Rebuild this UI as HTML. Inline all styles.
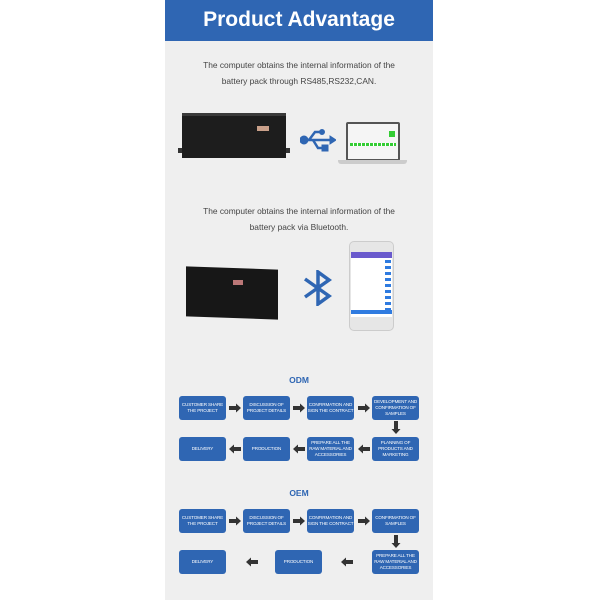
<!DOCTYPE html>
<html><head><meta charset="utf-8">
<style>
*{margin:0;padding:0;box-sizing:border-box}
body{width:600px;height:600px;background:#fff;position:relative;overflow:hidden;font-family:"Liberation Sans",sans-serif}
#col{position:absolute;left:165px;top:0;width:268px;height:600px;background:#efefef}
#hdr{position:absolute;left:165px;top:0;width:268px;height:41px;background:#2f66b3;color:#fff;font-weight:bold;font-size:21px;text-align:center;line-height:40px}
.t{position:absolute;left:165px;width:268px;text-align:center;font-size:8.4px;color:#444;line-height:16px}
.b{position:absolute;width:47px;height:24px;background:#2f66b3;border-radius:3px;color:#fff;font-size:4.6px;display:flex;align-items:center;justify-content:center;text-align:center;line-height:6px;text-transform:uppercase;letter-spacing:-0.15px;white-space:nowrap}
.h{position:absolute;left:165px;width:268px;text-align:center;color:#2f66b3;font-weight:bold;font-size:8.5px}
.a{position:absolute}
</style></head><body>
<div id="col"></div>
<div id="hdr">Product Advantage</div>
<div class="t" style="top:57px">The computer obtains the internal information of the<br>battery pack through RS485,RS232,CAN.</div>
<div style="position:absolute;left:178px;top:148px;width:112px;height:5px;background:#333"></div>
<div style="position:absolute;left:182px;top:113px;width:104px;height:45px;background:#1d1d1d;border-top:3px solid #3a3a3a"></div>
<div style="position:absolute;left:257px;top:126px;width:12px;height:5px;background:#c9a08a"></div>
<svg class="a" style="left:300px;top:128px" width="36" height="24" viewBox="0 0 36 24"><g fill="#2f66b3" stroke="#2f66b3"><circle cx="4" cy="12" r="4"/><line x1="4" y1="12" x2="30" y2="12" stroke-width="2.5"/><polygon points="30,8 36,12 30,16"/><polyline points="9,12 15,4 21,4" fill="none" stroke-width="2.5"/><circle cx="22" cy="4" r="2.5"/><polyline points="13,12 18,20 24,20" fill="none" stroke-width="2.5"/><rect x="22" y="17" width="6" height="6"/></g></svg>
<div style="position:absolute;left:346px;top:122px;width:54px;height:39px;background:#555;border-radius:2px"></div>
<div style="position:absolute;left:348px;top:124px;width:50px;height:35px;background:#f5f5f5"></div>
<div style="position:absolute;left:350px;top:143px;width:46px;height:3px;background:repeating-linear-gradient(90deg,#3c3 0 3px,#fff 3px 4px)"></div>
<div style="position:absolute;left:389px;top:131px;width:6px;height:6px;background:#3c3"></div>
<div style="position:absolute;left:338px;top:160px;width:69px;height:4px;background:#ccc;border-radius:0 0 3px 3px"></div>
<div class="t" style="top:203px">The computer obtains the internal information of the<br>battery pack via Bluetooth.</div>
<div style="position:absolute;left:186px;top:268px;width:92px;height:50px;background:#171717;transform:skewY(2deg)"></div>
<div style="position:absolute;left:233px;top:280px;width:10px;height:5px;background:#b77"></div>
<svg class="a" style="left:303px;top:270px" width="30" height="36" viewBox="0 0 30 36"><polyline points="2,9 26,26 15,34 15,2 26,10 2,27" fill="none" stroke="#2f66b3" stroke-width="3.5" stroke-linejoin="miter"/></svg>
<div style="position:absolute;left:349px;top:241px;width:45px;height:90px;background:#e6e6e6;border-radius:5px;border:1px solid #ccc"></div>
<div style="position:absolute;left:351px;top:252px;width:41px;height:65px;background:#fff"></div>
<div style="position:absolute;left:351px;top:252px;width:41px;height:6px;background:#6a5acd"></div>
<div style="position:absolute;left:385px;top:260px;width:6px;height:50px;background:repeating-linear-gradient(180deg,#2f7be0 0 3px,#fff 3px 6px)"></div>
<div style="position:absolute;left:351px;top:310px;width:41px;height:4px;background:#2f7be0"></div>

<div class="h" style="top:375px">ODM</div>
<div class="b" style="left:179px;top:396px">Customer share<br>the project</div>
<div class="b" style="left:243px;top:396px">Discussion of<br>project details</div>
<div class="b" style="left:307px;top:396px">Confirmation and<br>sign the contract</div>
<div class="b" style="left:372px;top:396px">Development and<br>confirmation of<br>samples</div>
<div class="b" style="left:179px;top:437px">Delivery</div>
<div class="b" style="left:243px;top:437px">Production</div>
<div class="b" style="left:307px;top:437px">Prepare all the<br>raw material and<br>accessories</div>
<div class="b" style="left:372px;top:437px">Planning of<br>products and<br>marketing</div>

<div class="h" style="top:488px">OEM</div>
<div class="b" style="left:179px;top:509px">Customer share<br>the project</div>
<div class="b" style="left:243px;top:509px">Discussion of<br>project details</div>
<div class="b" style="left:307px;top:509px">Confirmation and<br>sign the contract</div>
<div class="b" style="left:372px;top:509px">Confirmation of<br>samples</div>
<div class="b" style="left:179px;top:550px">Delivery</div>
<div class="b" style="left:275px;top:550px">Production</div>
<div class="b" style="left:372px;top:550px">Prepare all the<br>raw material and<br>accessories</div>

<svg class="a" style="left:0;top:0" width="600" height="600">
<defs>
<g id="r"><rect x="0" y="-2" width="7" height="4" fill="#333"/><polygon points="7,-4.5 12,0 7,4.5" fill="#333"/></g>
<g id="l"><rect x="5" y="-2" width="7" height="4" fill="#333"/><polygon points="5,-4.5 0,0 5,4.5" fill="#333"/></g>
<g id="d"><rect x="-2" y="0" width="4" height="8" fill="#333"/><polygon points="-4.5,8 4.5,8 0,13" fill="#333"/></g>
</defs>
<use href="#r" x="229" y="408"/><use href="#r" x="293" y="408"/><use href="#r" x="358" y="408"/>
<use href="#d" x="396" y="421"/>
<use href="#l" x="229" y="449"/><use href="#l" x="293" y="449"/><use href="#l" x="358" y="449"/>
<use href="#r" x="229" y="521"/><use href="#r" x="293" y="521"/><use href="#r" x="358" y="521"/>
<use href="#d" x="396" y="535"/>
<use href="#l" x="246" y="562"/><use href="#l" x="341" y="562"/>
</svg>
</body></html>
